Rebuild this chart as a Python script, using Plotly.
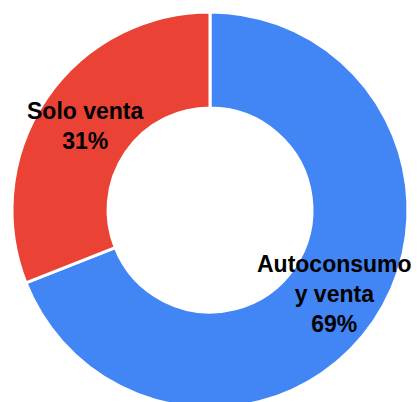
import math
import plotly.graph_objects as go

# ---- data ----
categories = ["Autoconsumo y venta", "Solo venta"]
display_labels = ["Autoconsumo<br>y venta", "Solo venta"]
values = [69, 31]
colors = ["#4285F4", "#EA4335"]

# ---- geometry (pixels) ----
W, H = 417, 420
CX, CY, R = 210, 210, 198
HOLE = 0.515

fig = go.Figure(
    go.Pie(
        labels=categories,
        values=values,
        sort=False,
        direction="clockwise",
        rotation=0,
        hole=HOLE,
        marker=dict(colors=colors, line=dict(color="white", width=3)),
        textinfo="none",
        hoverinfo="label+percent",
        domain=dict(
            x=[(CX - R) / W, (CX + R) / W],
            y=[(H - CY - R) / H, (H - CY + R) / H],
        ),
        showlegend=False,
    )
)

# labels placed at each slice's mid-angle, at mid-ring radius
total = sum(values)
cum = 0
r_mid = R * (1 + HOLE) / 2
annotations = []
for lab, v in zip(display_labels, values):
    mid = (cum + v / 2) / total * 2 * math.pi
    cum += v
    px = CX + r_mid * math.sin(mid)
    py = CY - r_mid * math.cos(mid)
    annotations.append(
        dict(
            x=px / W,
            y=(H - py) / H,
            xref="paper",
            yref="paper",
            text=f"{lab}<br>{round(v / total * 100)}%",
            showarrow=False,
            xanchor="center",
            yanchor="middle",
            font=dict(family="Liberation Sans, Arial, sans-serif", size=23, color="black", weight="bold"),
        )
    )

fig.update_layout(
    width=W,
    height=H,
    autosize=False,
    margin=dict(l=0, r=0, t=0, b=0),
    paper_bgcolor="white",
    plot_bgcolor="white",
    annotations=annotations,
)

fig.write_html(
    "out.html",
    config={"displayModeBar": False},
    post_script="document.body.style.margin='0';document.body.style.overflow='hidden';document.documentElement.style.overflow='hidden';",
)
